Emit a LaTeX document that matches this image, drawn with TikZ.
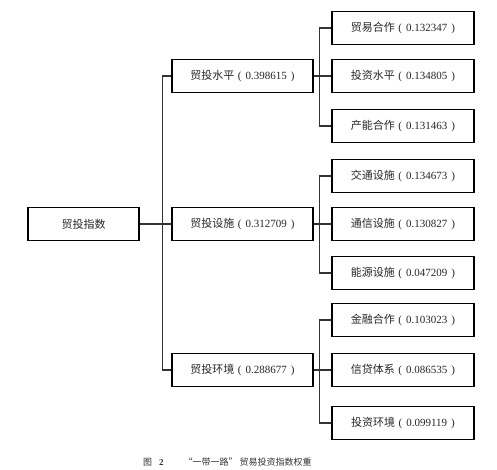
\documentclass[tikz,border=0pt]{standalone}
\usepackage{fontspec}
\setmainfont{Liberation Serif}
\newfontfamily\cjk{Noto Sans CJK SC}
\newcommand{\lab}[2]{{\cjk #1}\hspace{3.5pt}(\hspace{4pt}#2\hspace{4pt})}
\begin{document}
\begin{tikzpicture}[x=1pt,y=-1pt,
  box/.style={draw=black,line width=1.8pt,minimum height=33pt,inner sep=0pt,font=\fontsize{11}{13}\selectfont,text=black!85},
  leaf/.style={box,minimum width=142pt},
  mid/.style={box,minimum width=141pt},
  rootbox/.style={box,minimum width=111pt},
  conn/.style={line width=1.2pt,draw=black!80}]
\useasboundingbox (0,0) rectangle (497,469);
\fill[white] (0,0) rectangle (497,469);
\node[rootbox] (r) at (83.5,224) {{\cjk 贸投指数}};
\node[mid] (m1) at (242.5,76) {\lab{贸投水平}{0.398615}};
\node[mid] (m2) at (242.5,224) {\lab{贸投设施}{0.312709}};
\node[mid] (m3) at (242.5,370) {\lab{贸投环境}{0.288677}};
\node[leaf] (l1) at (403,28) {\lab{贸易合作}{0.132347}};
\node[leaf] (l2) at (403,76) {\lab{投资水平}{0.134805}};
\node[leaf] (l3) at (403,126) {\lab{产能合作}{0.131463}};
\node[leaf] (l4) at (403,176) {\lab{交通设施}{0.134673}};
\node[leaf] (l5) at (403,224) {\lab{通信设施}{0.130827}};
\node[leaf] (l6) at (403,273) {\lab{能源设施}{0.047209}};
\node[leaf] (l7) at (403,320) {\lab{金融合作}{0.103023}};
\node[leaf] (l8) at (403,370) {\lab{信贷体系}{0.086535}};
\node[leaf] (l9) at (403,423) {\lab{投资环境}{0.099119}};
\draw[conn] (r.east) -- (m2.west);
\draw[conn] (m1.west) -- ++(-9,0) |- (m3.west);
\draw[conn] (m1.east) -- (l2.west);
\draw[conn] (l1.west) -- ++(-12,0) |- (l3.west);
\draw[conn] (m2.east) -- (l5.west);
\draw[conn] (l4.west) -- ++(-12,0) |- (l6.west);
\draw[conn] (m3.east) -- (l8.west);
\draw[conn] (l7.west) -- ++(-12,0) |- (l9.west);
\node[anchor=west,inner sep=0pt,font=\fontsize{9}{11}\selectfont,text=black!80] (cap) at (143,462)
  {{\cjk 图}\hspace{7pt}\textbf{2}\hspace{20pt}{\cjk “一带一路”}\hspace{2pt}{\cjk 贸易投资指数权重}};
\end{tikzpicture}
\end{document}
